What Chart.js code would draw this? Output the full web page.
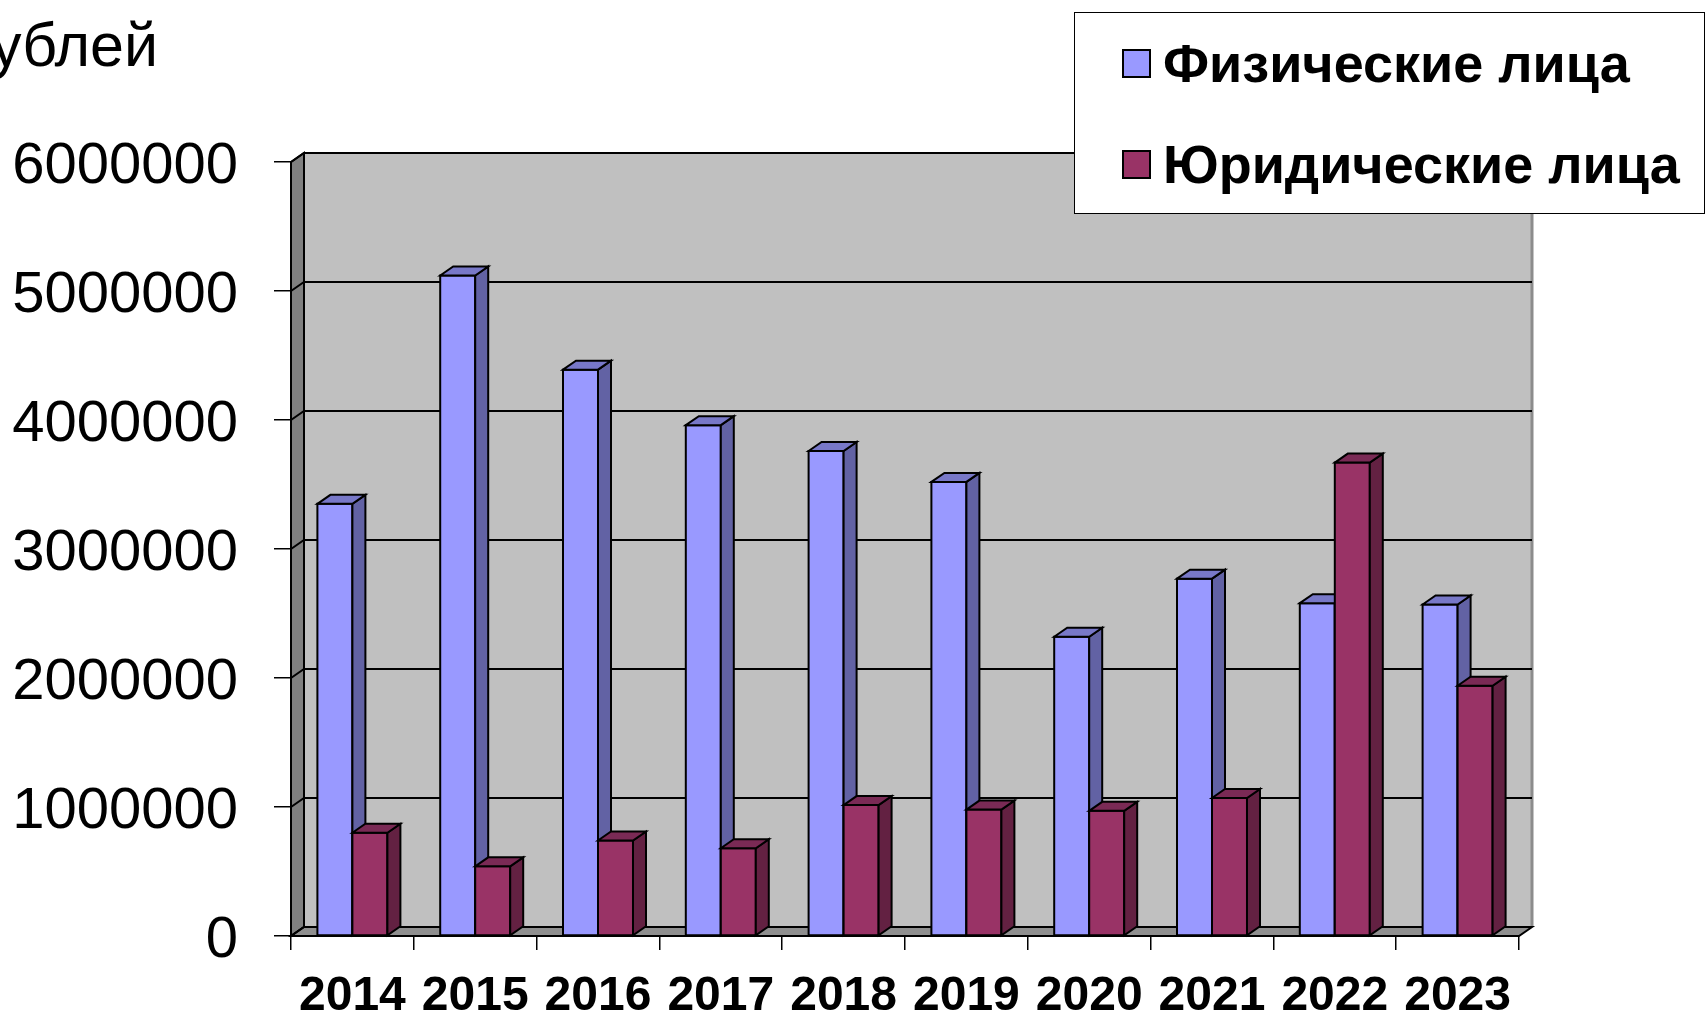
<!DOCTYPE html>
<html lang="ru">
<head>
<meta charset="utf-8">
<title>Физические и юридические лица</title>
<script src="https://cdn.jsdelivr.net/npm/chart.js@4.4.1/dist/chart.umd.min.js"></script>
<style>
    html, body { margin: 0; padding: 0; background: #fff; overflow: hidden; }
    #wrap { position: relative; width: 1707px; height: 1011px; overflow: hidden; }
    #chart { position: absolute; left: 0; top: 0; }
    #unit {
        position: absolute; top: 15px; right: 1549px;
        font: 61px/1 "Liberation Sans", Arial, sans-serif; white-space: nowrap; color: #000;
    }
    #legend {
        position: absolute; left: 1074px; top: 12px; width: 631px; height: 202px;
        border: 1.5px solid #000; background: #fff; box-sizing: border-box;
    }
    .item {
        position: absolute; left: 47px; height: 60px; display: flex; align-items: center;
        font: bold 54px "Liberation Sans", Arial, sans-serif; white-space: nowrap; color: #000;
    }
    .swatch { width: 29px; height: 29px; box-sizing: border-box; border: 2px solid #000; margin-right: 12px; }
</style>
</head>
<body>
<div id="wrap">
    <canvas id="chart" width="1707" height="1011"></canvas>
    <div id="unit"></div>
    <div id="legend"></div>
</div>
<script>
const years = ['2014', '2015', '2016', '2017', '2018', '2019', '2020', '2021', '2022', '2023'];
const fizLica = [3350000, 5120000, 4390000, 3960000, 3760000, 3520000, 2320000, 2770000, 2580000, 2570000];
const yurLica = [800000, 540000, 740000, 680000, 1015000, 980000, 970000, 1070000, 3670000, 1940000];
const yTicks = [0, 1000000, 2000000, 3000000, 4000000, 5000000, 6000000];
const seriesNames = ['Физические лица', 'Юридические лица'];
const unitLabel = 'рублей';

// псевдо-3D: смещение задней стенки и глубина столбиков
const depthX = 13;
const depthY = 9;

function poly(ctx, pts, fill) {
    ctx.beginPath();
    ctx.moveTo(pts[0][0], pts[0][1]);
    for (let i = 1; i < pts.length; i++) ctx.lineTo(pts[i][0], pts[i][1]);
    ctx.closePath();
    if (fill) { ctx.fillStyle = fill; ctx.fill(); }
    ctx.stroke();
}

const box3d = {
    id: 'box3d',
    beforeDatasetsDraw(chart) {
        const ctx = chart.ctx;
        const a = chart.chartArea;
        const yScale = chart.scales.y;
        const L = a.left, R = a.right, T = a.top, B = a.bottom;

        ctx.save();
        ctx.lineJoin = 'miter';

        // задняя стенка
        ctx.fillStyle = '#c0c0c0';
        ctx.fillRect(L + depthX, T - depthY, R - L, B - T);
        ctx.strokeStyle = '#8c8c8c';
        ctx.lineWidth = 3;
        ctx.beginPath();
        ctx.moveTo(R + depthX, T - depthY);
        ctx.lineTo(R + depthX, B - depthY);
        ctx.stroke();

        // левая стенка и пол
        ctx.strokeStyle = '#000';
        ctx.lineWidth = 2;
        poly(ctx, [[L, T], [L + depthX, T - depthY], [L + depthX, B - depthY], [L, B]], '#808080');
        poly(ctx, [[L, B], [L + depthX, B - depthY], [R + depthX, B - depthY], [R, B]], '#8f8f8f');

        // линии сетки
        yScale.ticks.forEach(function(t) {
            const y = yScale.getPixelForValue(t.value);
            ctx.beginPath();
            ctx.moveTo(L, y);
            ctx.lineTo(L + depthX, y - depthY);
            ctx.lineTo(R + depthX, y - depthY);
            ctx.stroke();
        });

        // столбики: по категориям, слева направо
        const metas = chart.data.datasets.map(function(ds, i) { return chart.getDatasetMeta(i); });
        for (let i = 0; i < years.length; i++) {
            metas.forEach(function(meta, d) {
                const ds = chart.data.datasets[d];
                const el = meta.data[i];
                const p = el.getProps(['x', 'y', 'base', 'width'], true);
                const x0 = p.x - p.width / 2, x1 = p.x + p.width / 2;
                ctx.lineWidth = 2;
                ctx.strokeStyle = '#000';
                poly(ctx, [[x0, p.y], [x1, p.y], [x1, p.base], [x0, p.base]], ds.backgroundColor);
                poly(ctx, [[x1, p.y], [x1 + depthX, p.y - depthY], [x1 + depthX, p.base - depthY], [x1, p.base]], ds.sideColor);
                poly(ctx, [[x0, p.y], [x0 + depthX, p.y - depthY], [x1 + depthX, p.y - depthY], [x1, p.y]], ds.topColor);
            });
        }

        ctx.restore();
        return false;
    }
};

document.addEventListener('DOMContentLoaded', function() {
    const canvas = document.getElementById('chart');
    const ctx = canvas.getContext('2d');

    const chart = new Chart(ctx, {
        type: 'bar',
        data: {
            labels: years,
            datasets: [
                {
                    label: seriesNames[0],
                    data: fizLica,
                    backgroundColor: '#9999ff',
                    sideColor: '#6262a4',
                    topColor: '#7878c8',
                    borderColor: '#000',
                    borderWidth: 2
                },
                {
                    label: seriesNames[1],
                    data: yurLica,
                    backgroundColor: '#993366',
                    sideColor: '#632142',
                    topColor: '#7a2a55',
                    borderColor: '#000',
                    borderWidth: 2
                }
            ]
        },
        options: {
            responsive: false,
            animation: false,
            events: [],
            categoryPercentage: 0.57,
            barPercentage: 1.0,
            layout: { padding: { top: 162, right: 188, left: 0, bottom: 0 } },
            plugins: {
                legend: { display: false },
                tooltip: { enabled: false },
                title: { display: false }
            },
            scales: {
                x: {
                    grid: { display: true, drawOnChartArea: false, tickLength: 14, color: '#000', lineWidth: 1.5 },
                    border: { display: true, color: '#000', width: 2 },
                    ticks: {
                        color: '#000', padding: 18,
                        font: { family: '"Liberation Sans", Arial, sans-serif', size: 48, weight: 'bold' }
                    },
                    afterFit: function(scale) { scale.height = 75; }
                },
                y: {
                    min: yTicks[0],
                    max: yTicks[yTicks.length - 1],
                    afterBuildTicks: function(scale) {
                        scale.ticks = yTicks.map(function(v) { return { value: v }; });
                    },
                    grid: { display: true, drawOnChartArea: false, tickLength: 17, color: '#000', lineWidth: 1.5 },
                    border: { display: true, color: '#000', width: 2 },
                    ticks: {
                        color: '#000', padding: 36, labelOffset: 5,
                        font: { family: '"Liberation Sans", Arial, sans-serif', size: 58 },
                        callback: function(value) { return String(value); }
                    },
                    afterFit: function(scale) { scale.width = 291; }
                }
            }
        },
        plugins: [box3d]
    });

    document.getElementById('unit').textContent = unitLabel;

    const legend = document.getElementById('legend');
    chart.data.datasets.forEach(function(ds, i) {
        const item = document.createElement('div');
        item.className = 'item';
        item.style.top = (20 + i * 101) + 'px';
        const sw = document.createElement('span');
        sw.className = 'swatch';
        sw.style.background = ds.backgroundColor;
        const txt = document.createElement('span');
        txt.textContent = ds.label;
        item.appendChild(sw);
        item.appendChild(txt);
        legend.appendChild(item);
    });
});
</script>
</body>
</html>
